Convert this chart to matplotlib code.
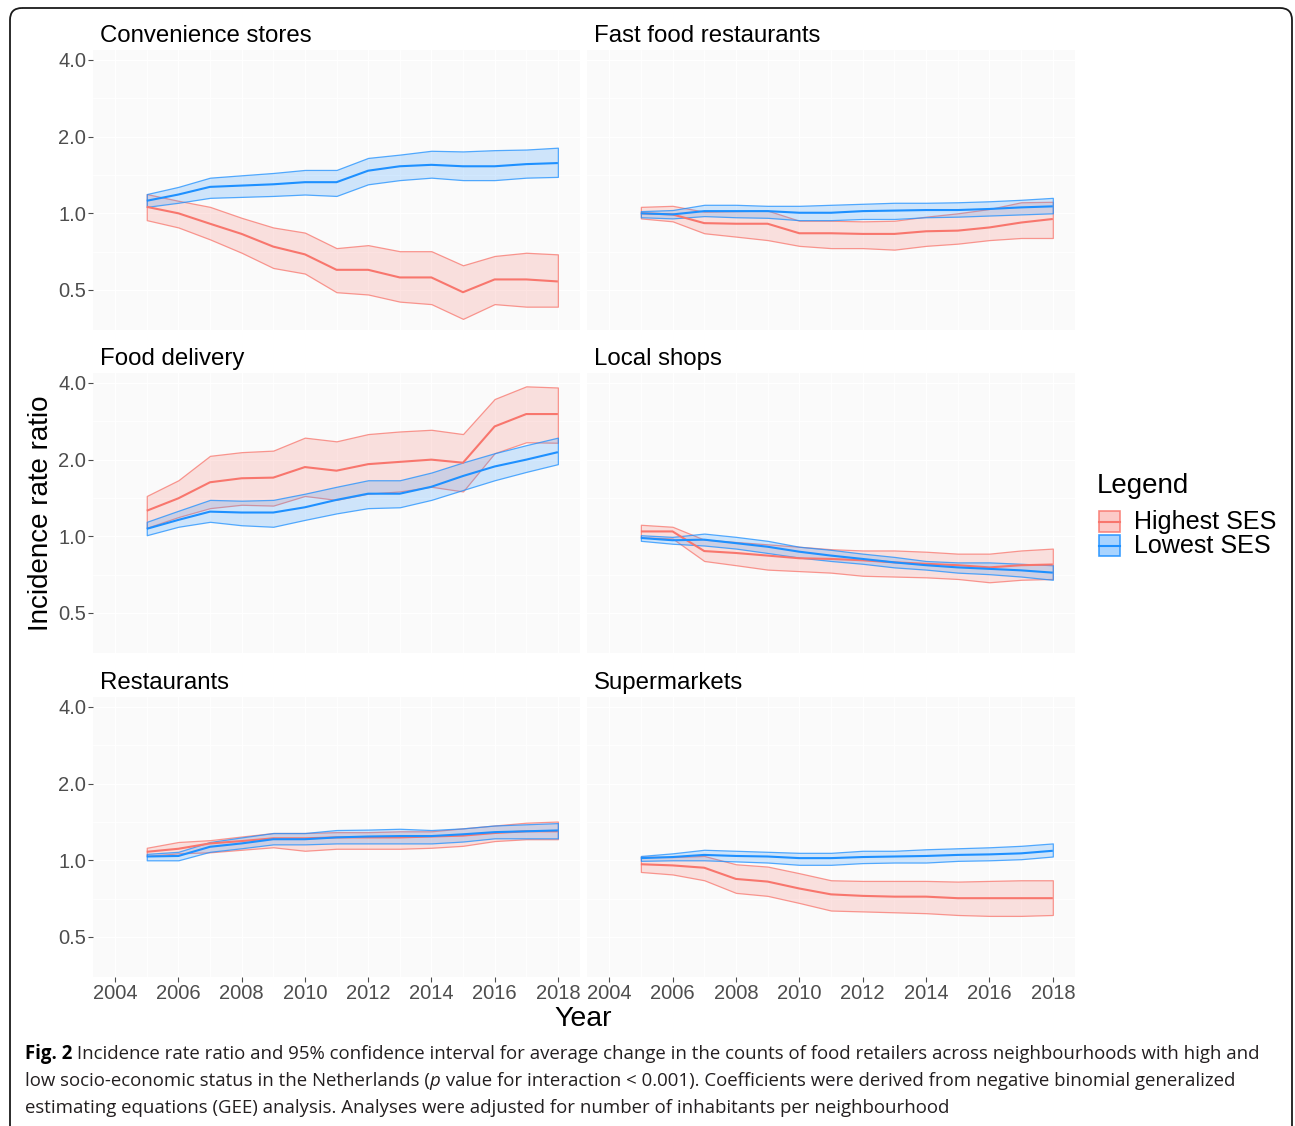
import matplotlib
matplotlib.use("Agg")
import matplotlib.pyplot as plt
from matplotlib import font_manager
from matplotlib.patches import FancyBboxPatch, Rectangle
from matplotlib.colors import to_rgba
from matplotlib.ticker import NullFormatter, FixedLocator, FixedFormatter

# ---------------------------------------------------------------- data
years = list(range(2005, 2019))
x_ticks = [2004, 2006, 2008, 2010, 2012, 2014, 2016, 2018]
y_ticks = [0.5, 1.0, 2.0, 4.0]
y_tick_labels = ["0.5", "1.0", "2.0", "4.0"]
groups = ["Highest SES", "Lowest SES"]

panel_titles = ["Convenience stores", "Fast food restaurants", "Food delivery",
                "Local shops", "Restaurants", "Supermarkets"]

# Convenience stores
conv_high = [1.06, 1.00, 0.91, 0.83, 0.74, 0.69, 0.60, 0.60, 0.56, 0.56, 0.49, 0.55, 0.55, 0.54]
conv_high_lo = [0.94, 0.88, 0.79, 0.70, 0.61, 0.58, 0.49, 0.48, 0.45, 0.44, 0.385, 0.44, 0.43, 0.43]
conv_high_hi = [1.19, 1.12, 1.06, 0.96, 0.88, 0.84, 0.73, 0.75, 0.71, 0.71, 0.625, 0.68, 0.70, 0.69]
conv_low = [1.12, 1.185, 1.27, 1.285, 1.30, 1.325, 1.325, 1.47, 1.53, 1.55, 1.53, 1.53, 1.56, 1.575]
conv_low_lo = [1.06, 1.10, 1.15, 1.16, 1.17, 1.185, 1.17, 1.30, 1.35, 1.38, 1.35, 1.35, 1.38, 1.39]
conv_low_hi = [1.19, 1.27, 1.38, 1.41, 1.44, 1.48, 1.48, 1.65, 1.70, 1.76, 1.75, 1.77, 1.78, 1.81]

# Fast food restaurants
ff_high = [1.00, 0.99, 0.915, 0.91, 0.91, 0.835, 0.835, 0.83, 0.83, 0.85, 0.855, 0.88, 0.92, 0.95]
ff_high_lo = [0.955, 0.93, 0.835, 0.81, 0.785, 0.745, 0.73, 0.73, 0.72, 0.745, 0.76, 0.785, 0.80, 0.80]
ff_high_hi = [1.06, 1.07, 1.015, 1.02, 1.025, 0.935, 0.935, 0.93, 0.935, 0.97, 1.00, 1.04, 1.105, 1.11]
ff_low = [1.00, 0.99, 1.02, 1.02, 1.02, 1.005, 1.005, 1.02, 1.025, 1.03, 1.03, 1.04, 1.055, 1.065]
ff_low_lo = [0.965, 0.955, 0.975, 0.965, 0.96, 0.94, 0.94, 0.95, 0.95, 0.965, 0.97, 0.98, 0.99, 1.00]
ff_low_hi = [1.02, 1.03, 1.08, 1.08, 1.07, 1.07, 1.08, 1.09, 1.10, 1.10, 1.105, 1.115, 1.13, 1.15]

# Food delivery
fd_high = [1.26, 1.41, 1.63, 1.69, 1.70, 1.87, 1.81, 1.92, 1.96, 2.00, 1.945, 2.70, 3.02, 3.02]
fd_high_lo = [1.08, 1.19, 1.29, 1.33, 1.32, 1.44, 1.39, 1.47, 1.50, 1.565, 1.50, 2.12, 2.34, 2.33]
fd_high_hi = [1.44, 1.66, 2.07, 2.14, 2.17, 2.44, 2.36, 2.52, 2.58, 2.62, 2.52, 3.46, 3.88, 3.84]
fd_low = [1.07, 1.16, 1.25, 1.24, 1.24, 1.30, 1.39, 1.47, 1.47, 1.565, 1.725, 1.88, 2.00, 2.14]
fd_low_lo = [1.01, 1.09, 1.14, 1.105, 1.09, 1.16, 1.23, 1.29, 1.30, 1.39, 1.52, 1.66, 1.79, 1.92]
fd_low_hi = [1.14, 1.26, 1.39, 1.38, 1.39, 1.47, 1.565, 1.66, 1.66, 1.78, 1.95, 2.12, 2.28, 2.44]

# Local shops
ls_high = [1.045, 1.045, 0.875, 0.86, 0.84, 0.82, 0.815, 0.805, 0.79, 0.78, 0.77, 0.755, 0.77, 0.775]
ls_high_lo = [0.99, 0.98, 0.80, 0.77, 0.74, 0.73, 0.72, 0.70, 0.695, 0.69, 0.68, 0.66, 0.675, 0.68]
ls_high_hi = [1.11, 1.09, 0.97, 0.95, 0.93, 0.91, 0.89, 0.88, 0.88, 0.87, 0.855, 0.855, 0.88, 0.895]
ls_low = [0.985, 0.965, 0.97, 0.94, 0.91, 0.87, 0.84, 0.815, 0.79, 0.77, 0.755, 0.745, 0.735, 0.72]
ls_low_lo = [0.96, 0.935, 0.92, 0.895, 0.86, 0.825, 0.80, 0.78, 0.755, 0.74, 0.72, 0.71, 0.695, 0.675]
ls_low_hi = [1.01, 0.995, 1.025, 0.995, 0.96, 0.91, 0.885, 0.855, 0.83, 0.80, 0.79, 0.79, 0.78, 0.77]

# Restaurants
rest_high = [1.08, 1.11, 1.165, 1.19, 1.22, 1.22, 1.23, 1.23, 1.23, 1.24, 1.25, 1.28, 1.30, 1.30]
rest_high_lo = [1.04, 1.065, 1.075, 1.10, 1.125, 1.09, 1.11, 1.11, 1.11, 1.12, 1.14, 1.19, 1.21, 1.21]
rest_high_hi = [1.12, 1.18, 1.20, 1.24, 1.28, 1.28, 1.29, 1.29, 1.30, 1.30, 1.335, 1.37, 1.405, 1.42]
rest_low = [1.035, 1.04, 1.13, 1.165, 1.21, 1.21, 1.23, 1.24, 1.245, 1.245, 1.265, 1.29, 1.30, 1.31]
rest_low_lo = [1.00, 1.00, 1.08, 1.115, 1.155, 1.155, 1.165, 1.165, 1.165, 1.165, 1.185, 1.22, 1.22, 1.22]
rest_low_hi = [1.06, 1.08, 1.18, 1.23, 1.28, 1.28, 1.315, 1.32, 1.33, 1.315, 1.335, 1.37, 1.385, 1.40]

# Supermarkets
sm_high = [0.965, 0.955, 0.935, 0.845, 0.825, 0.775, 0.735, 0.725, 0.72, 0.72, 0.71, 0.71, 0.71, 0.71]
sm_high_lo = [0.90, 0.88, 0.835, 0.745, 0.725, 0.68, 0.635, 0.63, 0.625, 0.62, 0.61, 0.605, 0.605, 0.61]
sm_high_hi = [1.035, 1.03, 1.04, 0.965, 0.945, 0.89, 0.835, 0.83, 0.83, 0.83, 0.825, 0.83, 0.835, 0.835]
sm_low = [1.02, 1.03, 1.05, 1.04, 1.035, 1.02, 1.02, 1.03, 1.035, 1.04, 1.05, 1.055, 1.065, 1.09]
sm_low_lo = [0.995, 1.00, 1.00, 0.99, 0.98, 0.96, 0.96, 0.975, 0.98, 0.98, 0.995, 1.00, 1.01, 1.035]
sm_low_hi = [1.04, 1.065, 1.10, 1.09, 1.08, 1.07, 1.07, 1.09, 1.09, 1.105, 1.115, 1.125, 1.14, 1.165]

panels = [
    ((conv_high, conv_high_lo, conv_high_hi), (conv_low, conv_low_lo, conv_low_hi)),
    ((ff_high, ff_high_lo, ff_high_hi), (ff_low, ff_low_lo, ff_low_hi)),
    ((fd_high, fd_high_lo, fd_high_hi), (fd_low, fd_low_lo, fd_low_hi)),
    ((ls_high, ls_high_lo, ls_high_hi), (ls_low, ls_low_lo, ls_low_hi)),
    ((rest_high, rest_high_lo, rest_high_hi), (rest_low, rest_low_lo, rest_low_hi)),
    ((sm_high, sm_high_lo, sm_high_hi), (sm_low, sm_low_lo, sm_low_hi)),
]

caption_lines = [
    [("Fig. 2", "bold", "normal"),
     (" Incidence rate ratio and 95% confidence interval for average change in the counts of food retailers "
      "across neighbourhoods with high and", "normal", "normal")],
    [("low socio-economic status in the Netherlands (", "normal", "normal"),
     ("p", "normal", "italic"),
     (" value for interaction < 0.001). Coefficients were derived from negative binomial generalized",
      "normal", "normal")],
    [("estimating equations (GEE) analysis. Analyses were adjusted for number of inhabitants per neighbourhood",
      "normal", "normal")],
]

# ---------------------------------------------------------------- style
W, H = 1295, 1126
series_colors = ["#F8766D", "#1E90FF"]
panel_bg = "#FAFAFA"
tick_grey = "#4D4D4D"
chart_font = ["Liberation Sans", "DejaVu Sans"]

installed = {f.name for f in font_manager.fontManager.ttflist}
caption_font = "Liberation Sans Narrow" if "Liberation Sans Narrow" in installed else "Open Sans"

plt.rcParams["font.family"] = chart_font

fig = plt.figure(figsize=(W / 100, H / 100), dpi=100)
fig.patch.set_facecolor("white")

# overlay in pixel coordinates for frame, labels, legend and caption
ov = fig.add_axes([0, 0, 1, 1], zorder=5)
ov.set_xlim(0, W)
ov.set_ylim(H, 0)
ov.axis("off")
ov.patch.set_alpha(0)


def px_axes(x0, y0, x1, y1):
    return fig.add_axes([x0 / W, 1 - y1 / H, (x1 - x0) / W, (y1 - y0) / H])


col_x = [(93, 580), (587, 1075)]
row_y = [(50, 330), (373, 653), (697, 977)]
ylim = (2 ** -1.522, 2 ** 2.130)
xlim = (2003.30, 2018.70)

for idx, (title, series) in enumerate(zip(panel_titles, panels)):
    r, c = divmod(idx, 2)
    x0, x1 = col_x[c]
    y0, y1 = row_y[r]
    ax = px_axes(x0, y0, x1, y1)
    ax.set_facecolor(panel_bg)
    ax.set_yscale("log", base=2)
    ax.set_xlim(*xlim)
    ax.set_ylim(*ylim)
    for s in ax.spines.values():
        s.set_visible(False)

    ax.xaxis.set_major_locator(FixedLocator(x_ticks))
    ax.xaxis.set_minor_locator(FixedLocator(years[::2]))
    ax.yaxis.set_major_locator(FixedLocator(y_ticks))
    ax.yaxis.set_minor_locator(FixedLocator([0.7071, 1.4142, 2.8284]))
    ax.xaxis.set_minor_formatter(NullFormatter())
    ax.yaxis.set_minor_formatter(NullFormatter())
    ax.yaxis.set_major_formatter(FixedFormatter(y_tick_labels))
    ax.xaxis.set_major_formatter(FixedFormatter([str(t) for t in x_ticks]))
    ax.grid(True, which="major", color="white", lw=1.0)
    ax.grid(True, which="minor", color="white", lw=0.6)
    ax.set_axisbelow(True)

    ax.tick_params(which="minor", length=0)
    ax.tick_params(which="major", length=3.5, width=0.8, color=tick_grey,
                   labelcolor=tick_grey, labelsize=14.5, pad=1.5)
    if c != 0:
        ax.tick_params(axis="y", which="major", length=0, labelleft=False)
    if r != 2:
        ax.tick_params(axis="x", which="major", length=0, labelbottom=False)

    for (mean, lo, hi), col in zip(series, series_colors):
        ax.fill_between(years, lo, hi, facecolor=to_rgba(col, 0.2),
                        edgecolor=to_rgba(col, 0.75), lw=0.9, zorder=2)
    for (mean, lo, hi), col in zip(series, series_colors):
        ax.plot(years, mean, color=col, lw=1.5, zorder=3, solid_capstyle="butt")

    ov.text(x0 + 7, y0 - 14, title, fontsize=17.3, color="black",
            ha="left", va="center", family=chart_font)

# axis titles
ov.text(583, 1019, "Year", fontsize=20.5, ha="center", va="center", family=chart_font)
ov.text(41, 513, "Incidence rate ratio", fontsize=20, rotation=90,
        ha="center", va="center", family=chart_font)

# legend
ov.text(1097, 486, "Legend", fontsize=20, ha="left", va="center", family=chart_font)
for i, (lab, col) in enumerate(zip(groups, series_colors)):
    ky = 511 + i * 24
    ov.add_patch(Rectangle((1099, ky), 21, 21, facecolor=to_rgba(col, 0.38),
                           edgecolor=to_rgba(col, 0.85), lw=1.2))
    ov.plot([1099, 1120], [ky + 10.5, ky + 10.5], color=col, lw=1.5)
    ov.text(1134, ky + 11, lab, fontsize=18.1, ha="left", va="center", family=chart_font)

# outer frame with rounded corners (bottom edge runs off the canvas)
ov.add_patch(FancyBboxPatch((10, 8), 1282, 1140,
                            boxstyle="round,pad=0,rounding_size=12",
                            facecolor="none", edgecolor="#1A1A1A", lw=1.3,
                            clip_on=False))

# caption, sized so that the first line spans the frame width
renderer = fig.canvas.get_renderer()
cap_size = 14.0
probe = ov.text(0, 0, "".join(p[0] for p in caption_lines[0]), fontsize=cap_size,
                family=caption_font)
probe_w = probe.get_window_extent(renderer).width
probe.remove()
cap_size *= (1267 - 25) / probe_w

line_y = [1054, 1081, 1108]
for parts, ly in zip(caption_lines, line_y):
    xcur = 25
    for txt, weight, style in parts:
        t = ov.text(xcur, ly, txt, fontsize=cap_size, family=caption_font,
                    weight=weight, style=style, ha="left", va="center",
                    color="black" if weight == "bold" else "#231F20")
        bb = t.get_window_extent(renderer)
        xcur += bb.width

fig.savefig("out.png", dpi=100)
